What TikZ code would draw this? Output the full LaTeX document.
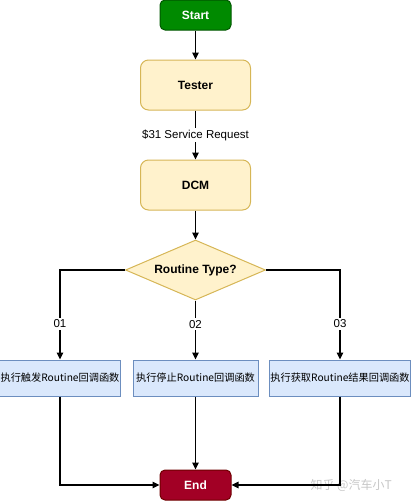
\documentclass[tikz,border=0pt]{standalone}
\usepackage{fontspec}
\setmainfont{Liberation Sans}
\newfontfamily\cjk{Noto Sans CJK SC}
\usetikzlibrary{shapes.geometric,arrows.meta}
\definecolor{startfill}{HTML}{008A00}
\definecolor{startline}{HTML}{005700}
\definecolor{endfill}{HTML}{A20025}
\definecolor{endline}{HTML}{6F0000}
\definecolor{yfill}{HTML}{FFF2CC}
\definecolor{yline}{HTML}{D6B656}
\definecolor{bfill}{HTML}{DAE8FC}
\definecolor{bline}{HTML}{6C8EBF}
\tikzset{
  term/.style={draw, rounded corners=5pt, minimum width=71pt, minimum height=30pt, line width=1pt, text=white, font=\fontsize{12}{14}\selectfont\bfseries},
  proc/.style={draw=yline, fill=yfill, rounded corners=8pt, minimum width=110pt, minimum height=50pt, line width=1pt, font=\fontsize{12}{14}\selectfont\bfseries},
  dec/.style={diamond, aspect=2.333, draw=yline, fill=yfill, line width=1pt, inner sep=0pt, minimum width=140pt, minimum height=60pt, font=\fontsize{12}{14}\selectfont\bfseries},
  act/.style={draw=bline, fill=bfill, minimum height=36pt, line width=1pt, inner sep=1pt, font=\cjk\fontsize{10.2}{12}\selectfont},
  arr/.style={draw, line width=1.2pt, -{Triangle[length=7pt,width=6.5pt]}},
  lab/.style={fill=white, inner sep=2pt, font=\fontsize{11.5}{13}\selectfont}
}
\begin{document}
\begin{tikzpicture}[x=1pt,y=-1pt]
\useasboundingbox (0,0) rectangle (411,501);
\node[term, fill=startfill, draw=startline] (start) at (195.5,15) {Start};
\node[proc] (tester) at (195.5,85) {Tester};
\node[proc] (dcm) at (195.5,185) {DCM};
\node[dec] (type) at (195.5,270) {Routine Type?};
\node[act, minimum width=120pt] (b1) at (60,378) {执行触发Routine回调函数};
\node[act, minimum width=125pt] (b2) at (195.5,378) {执行停止Routine回调函数};
\node[act, minimum width=140pt] (b3) at (340,378) {执行获取Routine结果回调函数};
\node[term, fill=endfill, draw=endline] (end) at (195.5,485) {End};
\node[text=black!22, font=\cjk\fontsize{12}{14}\selectfont, anchor=west] (wm) at (307,485) {知乎 @汽车小T};

\draw[arr] (start) -- (tester);
\draw[arr] (tester) -- node[lab] {\$31 Service Request} (dcm);
\draw[arr] (dcm) -- (type);
\draw[arr] (type.west) -| node[lab, pos=0.8] {01} (b1.north);
\draw[arr] (type.south) -- node[lab, pos=0.4] {02} (b2.north);
\draw[arr] (type.east) -| node[lab, pos=0.8] {03} (b3.north);
\draw[arr] (b1.south) |- (end.west);
\draw[arr] (b2.south) -- (end.north);
\draw[arr] (b3.south) |- (end.east);
\end{tikzpicture}
\end{document}
